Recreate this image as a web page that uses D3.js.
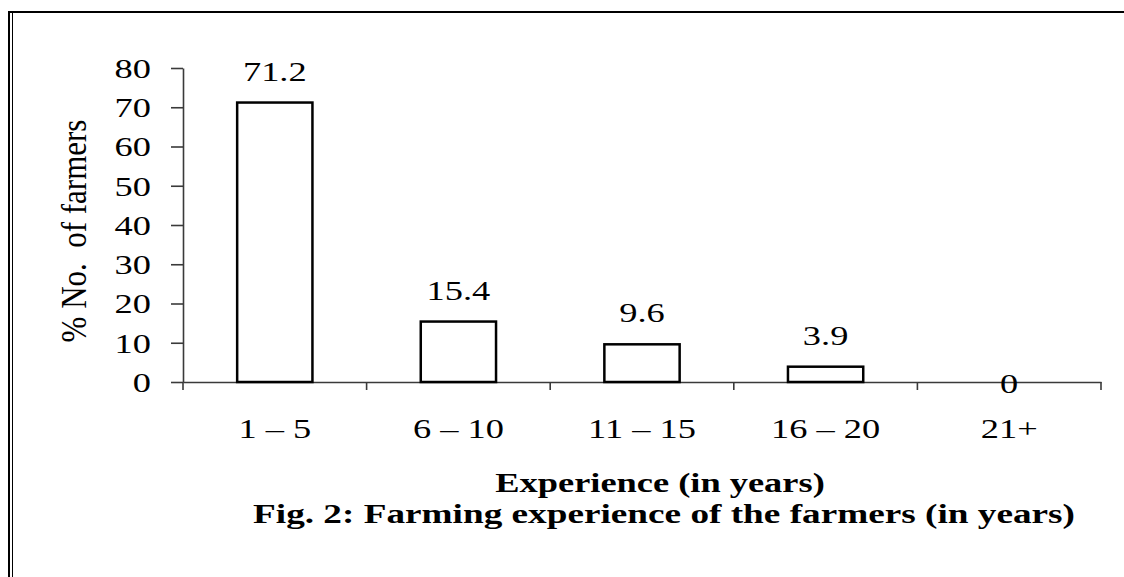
<!DOCTYPE html>
<html>
<head>
<meta charset="utf-8">
<script src="https://cdn.jsdelivr.net/npm/d3@7"></script>
<style>
  html, body { margin: 0; padding: 0; background: #fff; }
  svg { display: block; }
  text { font-family: "Liberation Serif", "Times New Roman", serif; fill: #000; }
</style>
</head>
<body>
<svg id="chart" width="1124" height="577"></svg>
<script>
// Farming experience of the farmers
const categories = ["1 \u2013 5", "6 \u2013 10", "11 \u2013 15", "16 \u2013 20", "21+"];
const percentFarmers = [71.2, 15.4, 9.6, 3.9, 0];
const valueLabels = ["71.2", "15.4", "9.6", "3.9", "0"];
const yTickValues = [0, 10, 20, 30, 40, 50, 60, 70, 80];

const W = 1124, H = 577;
const SX = 1.3;        // horizontal glyph stretch of the printed figure
const FS = 28;         // body font size
const margin = { left: 183, right: 1101, top: 68, bottom: 382 };

const svg = d3.select("#chart");

// frame: double rule on the left, single rule across the top
const frame = svg.append("g").attr("fill", "none").attr("stroke", "#000");
frame.append("line").attr("x1", 9).attr("x2", 9).attr("y1", 11).attr("y2", H).attr("stroke-width", 2);
frame.append("line").attr("x1", 12.5).attr("x2", 12.5).attr("y1", 12).attr("y2", H).attr("stroke-width", 1);
frame.append("line").attr("x1", 8).attr("x2", W).attr("y1", 12).attr("y2", 12).attr("stroke-width", 2);

const x = d3.scaleBand().domain(categories).range([margin.left, margin.right]).paddingInner(0).paddingOuter(0);
const y = d3.scaleLinear().domain([0, 80]).range([margin.bottom, margin.top]);

// stretched text helper: anchor point stays fixed
function stretch(sel, sx = SX) {
  sel.each(function () {
    const t = d3.select(this);
    const tx = +t.attr("x") || 0, ty = +t.attr("y") || 0;
    t.attr("x", 0).attr("y", 0)
     .attr("transform", `translate(${tx},${ty}) scale(${sx},1)`);
  });
}

// y axis
const yAxis = svg.append("g")
  .attr("transform", `translate(${margin.left},0)`)
  .call(d3.axisLeft(y).tickValues(yTickValues).tickSizeInner(12).tickSizeOuter(0).tickPadding(20).tickFormat(d3.format("d")));
yAxis.select(".domain").attr("stroke", "#3a3a3a").attr("stroke-width", 1.6);
yAxis.selectAll(".tick line").attr("stroke", "#3a3a3a").attr("stroke-width", 1.6);
yAxis.selectAll(".tick text")
  .attr("font-size", FS).attr("font-family", "Liberation Serif, serif")
  .attr("fill", "#000").attr("dy", null).attr("dominant-baseline", "central")
  .call(stretch);

// x axis with category labels centred in each band
const xAxis = svg.append("g")
  .attr("transform", `translate(0,${margin.bottom})`)
  .call(d3.axisBottom(x).tickSize(0).tickSizeOuter(0).tickPadding(36));
xAxis.select(".domain").attr("stroke", "#3a3a3a").attr("stroke-width", 1.6);
xAxis.selectAll(".tick text")
  .attr("font-size", FS).attr("font-family", "Liberation Serif, serif")
  .attr("fill", "#000")
  .call(stretch);

// boundary tick marks between categories
const boundaries = categories.map(c => x(c)).concat([x.range()[1]]);
svg.append("g").selectAll("line").data(boundaries).join("line")
  .attr("x1", d => d).attr("x2", d => d)
  .attr("y1", margin.bottom).attr("y2", margin.bottom + 8)
  .attr("stroke", "#3a3a3a").attr("stroke-width", 1.6);

// bars
const barW = x.bandwidth() * 0.41;
svg.append("g").selectAll("rect").data(percentFarmers).join("rect")
  .attr("x", (d, i) => x(categories[i]) + (x.bandwidth() - barW) / 2)
  .attr("y", d => y(d))
  .attr("width", barW)
  .attr("height", d => y(0) - y(d))
  .attr("fill", "#fff")
  .attr("stroke", "#000")
  .attr("stroke-width", 2.5)
  .attr("display", d => d > 0 ? null : "none");

// value labels
svg.append("g").selectAll("text").data(percentFarmers).join("text")
  .attr("x", (d, i) => x(categories[i]) + x.bandwidth() / 2)
  .attr("y", d => d > 0 ? y(d) - 22 : y(0) + 11)
  .attr("text-anchor", "middle")
  .attr("font-size", FS)
  .text((d, i) => valueLabels[i])
  .call(stretch);

// y axis title
svg.append("text")
  .attr("text-anchor", "middle")
  .attr("font-size", 31)
  .attr("transform", `translate(86,231) scale(1.15,1) rotate(-90)`)
  .style("white-space", "pre")
  .text("% No.  of farmers");

// x axis title and figure caption
svg.append("text")
  .attr("x", 660).attr("y", 492)
  .attr("text-anchor", "middle")
  .attr("font-size", FS).attr("font-weight", "bold")
  .text("Experience (in years)")
  .call(stretch);

svg.append("text")
  .attr("x", 664).attr("y", 523)
  .attr("text-anchor", "middle")
  .attr("font-size", FS).attr("font-weight", "bold")
  .text("Fig. 2: Farming experience of the farmers (in years)")
  .call(stretch, 1.33);
</script>
</body>
</html>
